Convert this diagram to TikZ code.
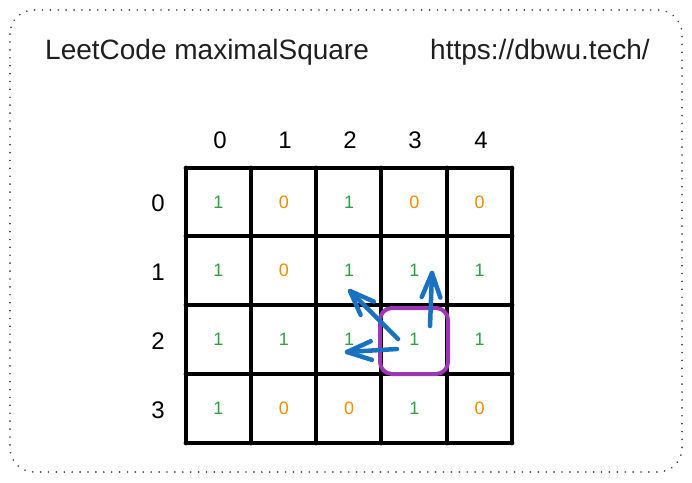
\documentclass[tikz,border=0pt]{standalone}
\usepackage{fontspec}
\setmainfont{Liberation Sans}
\usetikzlibrary{calc}
\definecolor{cgreen}{HTML}{2F9E44}
\definecolor{corange}{HTML}{F08C00}
\definecolor{cblue}{HTML}{1971C2}
\definecolor{cpurple}{HTML}{9C36B5}
\definecolor{cframe}{HTML}{404040}
\tikzset{
  titletext/.style={anchor=base west, inner sep=0pt, text=black!88, font=\fontsize{28}{34}\selectfont},
  headtext/.style={inner sep=0pt, font=\fontsize{24}{28}\selectfont},
  onecell/.style={inner sep=0pt, text=cgreen, font=\fontsize{18}{22}\selectfont},
  zerocell/.style={inner sep=0pt, text=corange, font=\fontsize{18}{22}\selectfont},
  gridline/.style={line width=4.8pt, line cap=round, black},
  bluearrow/.style={cblue, line width=4.5pt, line cap=round, line join=round},
  framebox/.style={cframe, line width=1.8pt, line cap=round, dash pattern=on 0.1pt off 7.8pt, rounded corners=24pt},
}
\newcommand{\barbarrow}[2]{%
  \draw[bluearrow] (#1) -- (#2);
  \draw[bluearrow] ($(#2)!26pt!21:(#1)$) -- (#2) -- ($(#2)!26pt!-21:(#1)$);
}
\begin{document}
\begin{tikzpicture}[x=1pt,y=-1pt]
\useasboundingbox (0,0) rectangle (692,482);
\draw[framebox] (10,10) rectangle (682,472);
\node[titletext] (title) at (45,59) {LeetCode maximalSquare};
\node[titletext] (url) at (430,59) {https://dbwu.tech/};
% column headers
\foreach \x/\t [count=\i from 0] in {220/0,285/1,350/2,415/3,481/4}
  \node[headtext] (c\i) at (\x,140) {\t};
% row headers
\foreach \y/\t [count=\i from 0] in {203/0,272/1,341/2,410/3}
  \node[headtext] (r\i) at (158,\y) {\t};
% grid
\foreach \x in {186,251,316,381,447,512}
  \draw[gridline] (\x,168) -- (\x,443);
\foreach \y in {168,236,305,374,443}
  \draw[gridline] (186,\y) -- (512,\y);
% cells
\foreach \row/\y/\vals in {0/202/{1,0,1,0,0},1/270.5/{1,0,1,1,1},2/339.5/{1,1,1,1,1},3/408.5/{1,0,0,1,0}}{
  \foreach \v [count=\j from 0] in \vals {
    \pgfmathsetmacro{\xx}{218.5+65.25*\j}
    \ifnum\v=1
      \node[onecell] (m\row\j) at (\xx,\y) {1};
    \else
      \node[zerocell] (m\row\j) at (\xx,\y) {0};
    \fi
  }
}
% highlight
\draw[cpurple, line width=4pt, rounded corners=12pt] (380,308) rectangle (448,374);
% arrows
\coordinate (upS) at (430,326);
\coordinate (upE) at (432,273);
\coordinate (dgS) at (398,339);
\coordinate (dgE) at (350,291);
\coordinate (lfS) at (397,349);
\coordinate (lfE) at (347,352);
\barbarrow{upS}{upE}
\barbarrow{dgS}{dgE}
\barbarrow{lfS}{lfE}
\end{tikzpicture}
\end{document}
